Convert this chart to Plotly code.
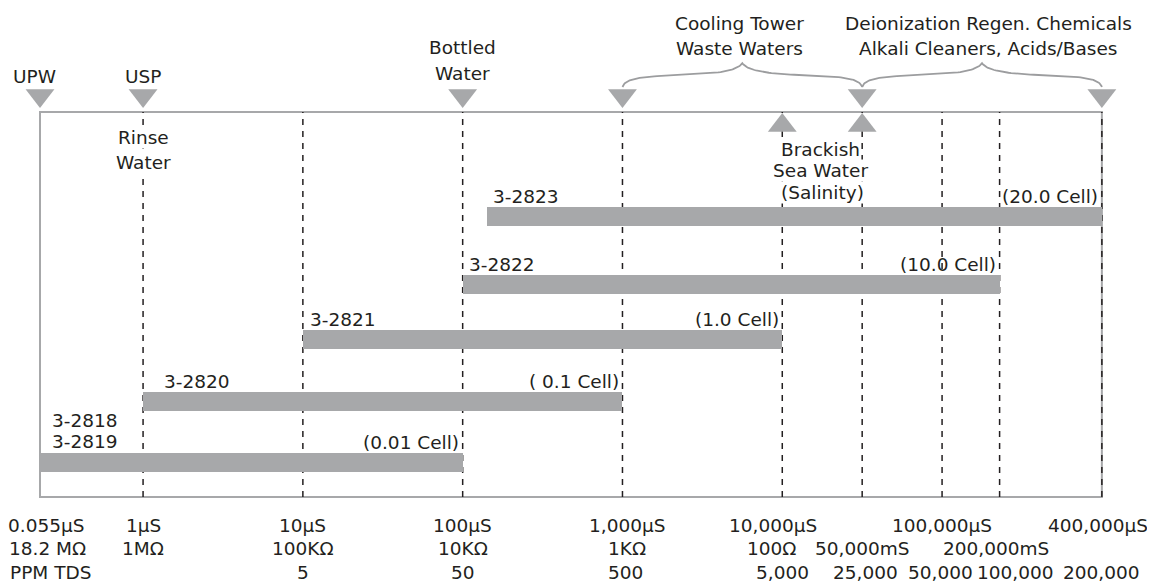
import plotly.graph_objects as go

# ---------------- data (schematic decade positions: 1 µS = 0, 10 µS = 1, ...) ----------------
x_min, x_max = -0.645, 6.0          # edges of the framed scale
grid_pos = [0, 1, 2, 3, 4, 4.5, 5, 5.36, 6]

row1_labels = ["0.055µS", "1µS", "10µS", "100µS", "1,000µS", "10,000µS", "100,000µS", "400,000µS"]
row1_pos = [-0.61, 0, 1, 2, 3.03, 3.94, 5.0, 5.99]
row2_labels = ["18.2 MΩ", "1MΩ", "100KΩ", "10KΩ", "1KΩ", "100Ω", "50,000mS", "200,000mS"]
row2_pos = [-0.60, 0, 1, 2, 3.03, 3.93, 4.5, 5.34]
row3_labels = ["PPM TDS", "5", "50", "500", "5,000", "25,000", "50,000", "100,000", "200,000"]
row3_pos = [-0.58, 1, 2, 3.02, 4, 4.52, 4.99, 5.46, 6.0]

probe_models = ["3-2823", "3-2822", "3-2821", "3-2820", "3-2818<br>3-2819"]
probe_start = [2.15, 2, 1, 0, -0.645]
probe_end = [6, 5.36, 4, 3, 2]
probe_row = [7.28, 5.52, 4.09, 2.49, 0.9]
cell_labels = ["(20.0 Cell)", "(10.0 Cell)", "(1.0 Cell)", "( 0.1 Cell)", "(0.01 Cell)"]

down_marks_x = [-0.645, 0, 2, 3, 4.5, 6]
up_marks_x = [4, 4.5]

# ---------------- styles ----------------
GRAY = "#a7a8aa"
TXT = "#231f20"
FONT = "DejaVu Sans"
FS = 18.5
ROW_H = 0.49
Y_DOWN = 10.43
Y_UP = 9.65

fig = go.Figure()

# bars
fig.add_trace(go.Bar(
    orientation="h",
    y=probe_row,
    x=[e - s for s, e in zip(probe_start, probe_end)],
    base=probe_start,
    width=ROW_H,
    marker=dict(color=GRAY, line=dict(width=0)),
    hoverinfo="skip",
    showlegend=False,
))

# triangles
fig.add_trace(go.Scatter(
    x=down_marks_x, y=[Y_DOWN] * len(down_marks_x), mode="markers",
    marker=dict(symbol="triangle-down", size=25, color=GRAY, line=dict(width=0)),
    showlegend=False, hoverinfo="skip"))
fig.add_trace(go.Scatter(
    x=up_marks_x, y=[Y_UP] * len(up_marks_x), mode="markers",
    marker=dict(symbol="triangle-up", size=25, color=GRAY, line=dict(width=0)),
    showlegend=False, hoverinfo="skip"))


# braces
def bez(p0, p1, p2, p3, n=30):
    out = []
    for i in range(n + 1):
        t = i / n
        a, b, c, d = (1 - t) ** 3, 3 * t * (1 - t) ** 2, 3 * t * t * (1 - t), t ** 3
        out.append((a * p0[0] + b * p1[0] + c * p2[0] + d * p3[0],
                    a * p0[1] + b * p1[1] + c * p2[1] + d * p3[1]))
    return out


half_shape = bez((0, 0), (0.02, 0.35), (0.15, 0.45), (0.5, 0.5)) + \
    bez((0.5, 0.5), (0.85, 0.55), (0.97, 0.75), (1, 1))[1:]


def brace(x0, x1, y0, h):
    half = (x1 - x0) / 2
    xs = [x0 + u * half for u, v in half_shape]
    ys = [y0 + v * h for u, v in half_shape]
    xs += [x1 - u * half for u, v in reversed(half_shape)]
    ys += [y0 + v * h for u, v in reversed(half_shape)]
    return xs, ys


for bx0, bx1 in [(3, 4.5), (4.5, 6)]:
    bxs, bys = brace(bx0, bx1, 10.65, 0.62)
    fig.add_trace(go.Scatter(x=bxs, y=bys, mode="lines",
                             line=dict(color="#9c9d9f", width=1.8),
                             showlegend=False, hoverinfo="skip"))

# frame and dashed reference lines
fig.add_shape(type="rect", xref="x", yref="y", x0=x_min, x1=x_max, y0=0, y1=10,
              line=dict(color=GRAY, width=2), fillcolor="rgba(0,0,0,0)", layer="below")
for gx in grid_pos:
    fig.add_shape(type="line", xref="x", yref="y", x0=gx, x1=gx, y0=0, y1=10,
                  line=dict(color=TXT, width=1.5, dash="6px,6px"), layer="below")

annots = []


def txt(t, x, y, anchor="center", bg=None):
    d = dict(text=t, x=x, y=y, xref="x", yref="y", showarrow=False,
             xanchor=anchor, yanchor="middle",
             font=dict(family=FONT, size=FS, color=TXT))
    if bg:
        d["bgcolor"] = bg
        d["borderpad"] = 0
    annots.append(d)


# bottom scale rows
for labels, pos, yy in [(row1_labels, row1_pos, -0.73), (row2_labels, row2_pos, -1.35),
                        (row3_labels, row3_pos, -1.95)]:
    for t, p in zip(labels, pos):
        if t == "400,000µS":
            txt(t, 6.30, yy, "right")
        else:
            txt(t, p, yy)

# bar labels
for m, s, e, r, c in zip(probe_models, probe_start, probe_end, probe_row, cell_labels):
    if "<br>" in m:
        a, b = m.split("<br>")
        txt(a, s + 0.06, r + 1.1, "left")
        txt(b, s + 0.06, r + 0.53, "left")
    else:
        txt(m, s + (0.12 if s == 0 else 0.03), r + 0.52, "left")
    txt(c, e - 0.01, r + 0.52, "right")

# top labels
txt("UPW", -0.68, 10.935)
txt("USP", 0, 10.935)
txt("Bottled", 2, 11.675)
txt("Water", 2, 11.013)
txt("Cooling Tower", 3.73, 12.30)
txt("Waste Waters", 3.73, 11.65)
txt("Deionization Regen. Chemicals", 5.29, 12.30)
txt("Alkali Cleaners, Acids/Bases", 5.29, 11.65)
txt("Rinse", 0, 9.35, bg="white")
txt("Water", 0, 8.70, bg="white")
txt("Brackish", 4.24, 9.03, bg="white")
txt("Sea Water", 4.24, 8.48, bg="white")
txt("(Salinity)", 4.25, 7.90, bg="white")

# page has an 8px body margin: the figure spans page x 8..1155, y 8..584
PX_X = 159.8   # px per decade unit
PX_Y = 38.5    # px per y unit
fig.update_layout(
    width=1147, height=576,
    margin=dict(l=0, r=0, t=0, b=0),
    paper_bgcolor="white", plot_bgcolor="white",
    annotations=annots,
    bargap=0,
    xaxis=dict(range=[x_min - 32 / PX_X, x_min + 1115 / PX_X], visible=False, fixedrange=True),
    yaxis=dict(range=[-87 / PX_Y, 489 / PX_Y], visible=False, fixedrange=True),
)

fig.write_html("out.html")
